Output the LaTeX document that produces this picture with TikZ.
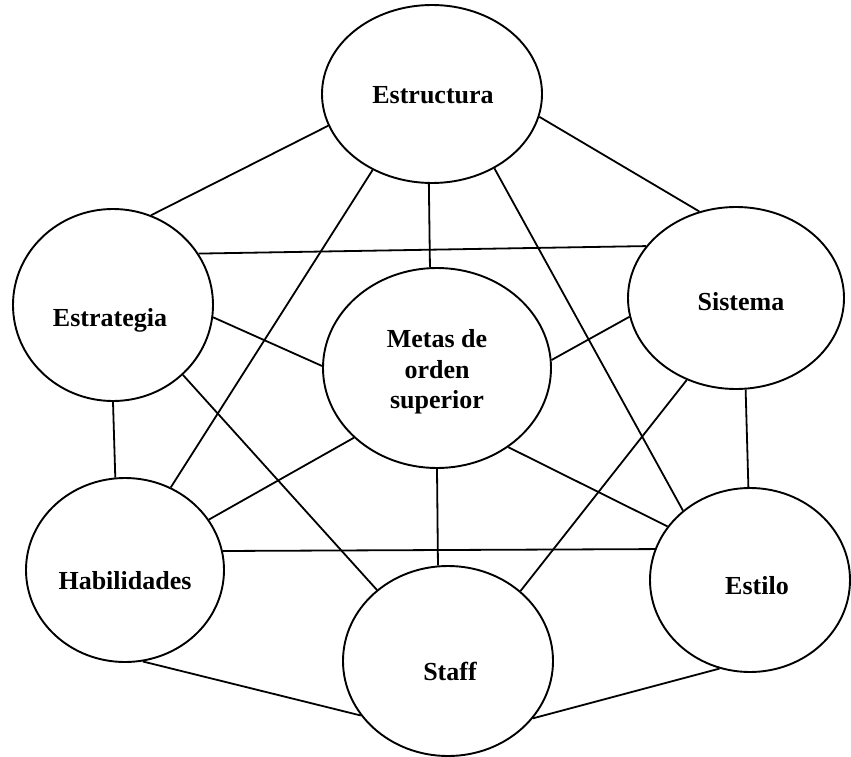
\documentclass[tikz,border=0pt]{standalone}
\usepackage{fontspec}
\setmainfont{Liberation Serif}
\usetikzlibrary{shapes.geometric}
\begin{document}
\begin{tikzpicture}[x=1pt,y=-1pt,
  ell/.style={draw, ellipse, line width=1.9pt, inner sep=0pt},
  lbl/.style={font=\bfseries\fontsize{26}{30}\selectfont, anchor=base, inner sep=0pt},
  conn/.style={line width=1.8pt}]
\fill[white] (0,0) rectangle (851,757);
\useasboundingbox (0,0) rectangle (851,757);
% ellipses
\node[ell, minimum width=220pt, minimum height=178pt] (S)  at (432,94)  {};
\node[ell, minimum width=200pt, minimum height=192pt] (E)  at (113,305) {};
\node[ell, minimum width=216pt, minimum height=182pt] (Si) at (736,298) {};
\node[ell, minimum width=228pt, minimum height=200pt] (M)  at (437,368) {};
\node[ell, minimum width=198pt, minimum height=184pt] (H)  at (125,570) {};
\node[ell, minimum width=210pt, minimum height=190pt] (St) at (448,661) {};
\node[ell, minimum width=200pt, minimum height=184pt] (Es) at (750,580) {};
% labels
\node[lbl] (tS)  at (433,104) {Estructura};
\node[lbl] (tE)  at (110,326) {Estrategia};
\node[lbl] (tSi) at (741,310) {Sistema};
\node[lbl] (tM1) at (437,347) {Metas de};
\node[lbl] (tM2) at (437,378) {orden};
\node[lbl] (tM3) at (437,408) {superior};
\node[lbl] (tH)  at (125,589) {Habilidades};
\node[lbl] (tSt) at (450,680) {Staff};
\node[lbl] (tEs) at (757,594) {Estilo};
% connectors
\draw[conn] (S.197.6) -- (E.67.3);
\draw[conn] (S.348.8) -- (Si.113.8);
\draw[conn] (S.232.2) -- (H.61.5);
\draw[conn] (S.268.7) -- (M.94.0);
\draw[conn] (S.310.4) -- (Es.134.6);
\draw[conn] (E.31.9) -- (Si.150.2);
\draw[conn] (E.353.2) -- (M.179.5);
\draw[conn] (E.315) -- (St.135.8);
\draw[conn] (E.270) -- (H.96.9);
\draw[conn] (Si.190.6) -- (M.4.0);
\draw[conn] (Si.239.1) -- (St.44.6);
\draw[conn] (Si.276.3) -- (Es.91.2);
\draw[conn] (M.220.1) -- (H.31.6);
\draw[conn] (M.270) -- (St.96.6);
\draw[conn] (M.312.7) -- (Es.147.9);
\draw[conn] (H.11.5) -- (Es.162.6);
\draw[conn] (H.281.8) -- (St.212.2);
\draw[conn] (St.326.6) -- (Es.251.2);
\end{tikzpicture}
\end{document}
